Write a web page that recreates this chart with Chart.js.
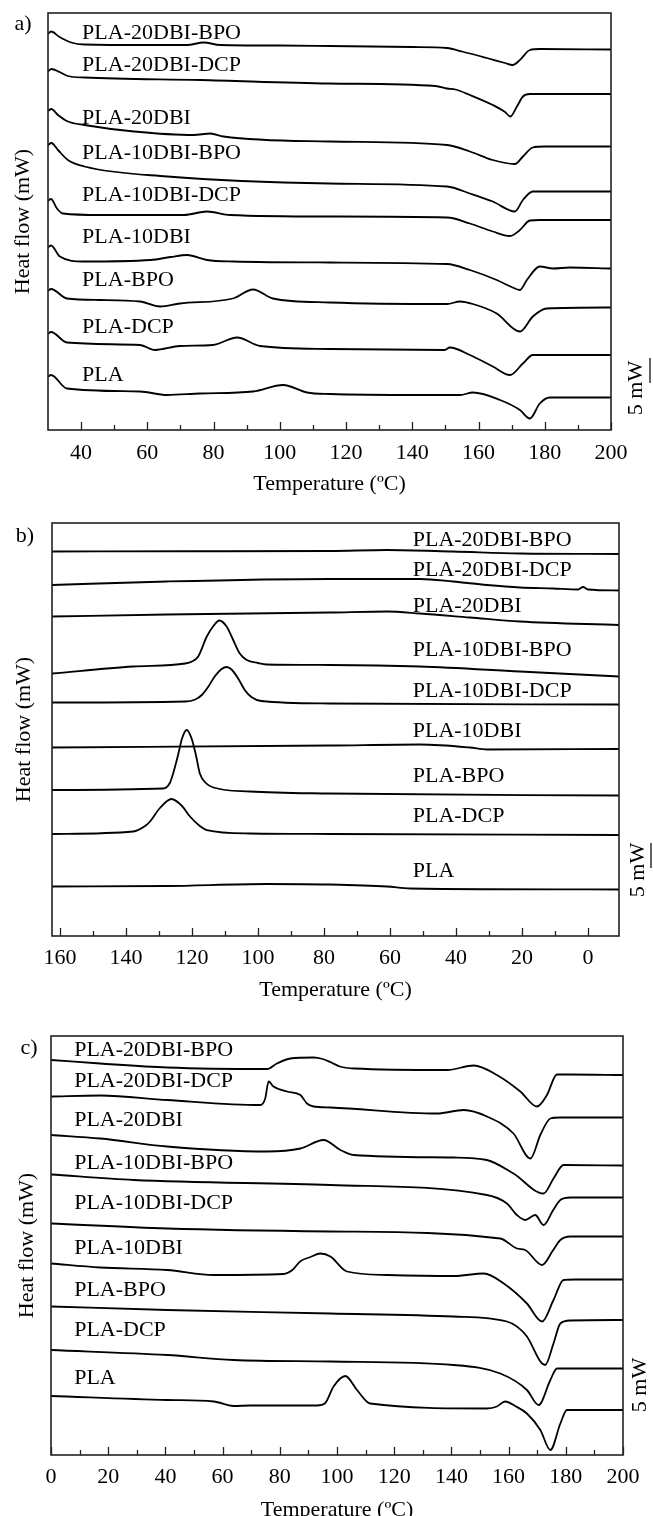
<!DOCTYPE html>
<html>
<head>
<meta charset="utf-8">
<script src="https://cdn.jsdelivr.net/npm/chart.js@4.4.1/dist/chart.umd.min.js"></script>
<style>
  html, body { margin: 0; padding: 0; background: #fff; }
  body { width: 653px; height: 1516px; position: relative; overflow: hidden; }
  .panel { position: absolute; left: 0; width: 653px; }
</style>
</head>
<body>
<div class="panel" style="top:0;height:505px"><canvas id="dscA"></canvas></div>
<div class="panel" style="top:505px;height:520px"><canvas id="dscB"></canvas></div>
<div class="panel" style="top:1025px;height:500px"><canvas id="dscC"></canvas></div>
<script>
const samples = ['PLA-20DBI-BPO', 'PLA-20DBI-DCP', 'PLA-20DBI', 'PLA-10DBI-BPO',
  'PLA-10DBI-DCP', 'PLA-10DBI', 'PLA-BPO', 'PLA-DCP', 'PLA'];

// a) first heating, [temperature ºC, heat flow mW (stacked offset)]
const ticksA = [40, 60, 80, 100, 120, 140, 160, 180, 200];
const minorA = [50, 70, 90, 110, 130, 150, 170, 190];
const a20BPO = [[30,79.2],[30.9,79.7],[33.5,78.6],[37,77.5],[41,77.1],[60,77],[72,77],[77,77.5],[82,77],[100,76.9],[115,76.8],[140,76.6],[150.5,76.4],[155,75.7],[162.5,74.4],[168,73.4],[170.3,73],[172.5,74],[175.5,76],[178.5,76.2],[200,76.1]];
const a20DCP = [[30,71.7],[31,72.2],[33.5,71.6],[36,70.8],[41,70.5],[76,70],[115,69.3],[147,68.8],[150.5,68.3],[153,68.1],[157.4,67],[164.3,65],[168,63.6],[169.6,62.7],[171.6,64.7],[173.4,66.7],[175.5,67.2],[200,67.2]];
const a20 = [[30,63.8],[31,64.2],[33,63],[36,61.7],[41,61],[56,59.7],[74,59],[79,59.3],[83,58.7],[115,57.7],[150.5,57],[157.4,55.7],[164.3,54],[171,53.2],[173.4,54.7],[176.4,56.5],[180,56.7],[200,56.7]];
const a10BPO = [[30,57],[31,57.4],[33,56],[36,54],[41,52.7],[66,50.7],[115,49.3],[150.5,48.7],[157.4,47.3],[164.3,45.7],[171,43.7],[173.4,46],[176.4,47.7],[180,47.7],[200,47.7]];
const a10DCP = [[30,45.8],[30.9,46.2],[32.7,44.3],[34.5,43.3],[46,43],[71,43],[78,43.7],[85,43],[115,42.7],[150.5,42.5],[157.4,41.3],[164.3,39.7],[169.5,38.8],[172.5,40],[175.5,41.9],[178.5,42],[200,42]];
const a10 = [[30,36.5],[30.9,36.9],[33.6,34.7],[40.6,33.7],[61,34],[67,34.6],[72,35],[78,34],[86,33.7],[115,33.5],[150.5,33.2],[157.4,32],[165.5,30],[170,28.6],[172.5,28],[174.6,30],[178.5,32.7],[182.5,32.3],[187.6,32.5],[200,32.3]];
const aBPO = [[30,27.8],[30.9,28.2],[35.7,26.3],[45.7,26],[57.8,25.7],[63.8,24.7],[69.8,25.3],[85.8,26.3],[91.9,28.1],[97.9,26.3],[115,25.5],[150.5,25.2],[154.4,25.7],[158.3,25.2],[165.5,23.3],[172.5,19.7],[176.4,22.7],[180.6,24.3],[200,24.5]];
const aDCP = [[30,19.2],[30.9,19.6],[35.7,17.5],[57.8,17],[62.3,16],[69.8,16.8],[79.8,17],[87.1,18.5],[94,16.8],[115,16.2],[149.8,16],[151.3,16.5],[157.4,15],[164.3,12.7],[169.5,11],[173.4,13.3],[176.4,15],[200,15]];
const aPLA = [[30,10.6],[30.9,11],[35.7,8.3],[57.8,7.7],[65.9,7],[75.9,7.3],[91.9,7.7],[101,9],[108.2,7.5],[115,7.2],[142.3,7],[154.4,7],[158.3,7.5],[166.5,6],[172.5,4],[175.5,2.3],[178.5,5.3],[181.5,6.5],[200,6.5]];

// b) cooling
const ticksB = [160, 140, 120, 100, 80, 60, 40, 20, 0];
const minorB = [150, 130, 110, 90, 70, 50, 30, 10];
const b20BPO = [[162.4,76.9],[120,76.95],[78.2,77],[60.9,77.2],[40.9,76.9],[20.6,76.5],[-9.4,76.4]];
const b20DCP = [[162.4,70.2],[127.6,70.9],[78.2,71.4],[50.9,71.4],[40.9,70.9],[30.6,70.2],[20.6,69.7],[10.6,69.5],[3,69.3],[1.5,69.8],[0,69.3],[-9.4,69.1]];
const b20 = [[162.4,63.9],[127.6,64.3],[78.2,64.7],[60.9,64.9],[50.9,64.5],[35.8,63.7],[20.6,62.9],[-9.4,62.2]];
const b10BPO = [[162.4,52.5],[137.9,53.9],[122,54.5],[120,54.9],[118.1,55.9],[115.5,59.9],[113.5,62],[111.7,63.1],[109.5,61.9],[107.5,59.2],[105.5,56.5],[103.4,55.2],[100,54.6],[97.4,54.3],[78.2,54.2],[50.9,53.9],[20.6,52.9],[-9.4,51.9]];
const b10DCP = [[162.4,46.7],[122,46.9],[119,47.3],[117,48.2],[115,49.9],[113,52],[111,53.4],[109.5,53.8],[108,53.3],[106,51.5],[104,49.2],[102,47.8],[99,47],[78.2,46.5],[-9.4,46.3]];
const b10 = [[162.4,37.7],[78.2,38.1],[50.9,38.3],[35.8,37.7],[30.6,37.3],[-9.4,37.4]];
const bBPO = [[162.4,29.2],[128.7,29.5],[126.7,30.6],[125.7,32.5],[124.2,36.2],[123,39.5],[121.6,41.2],[120.1,39.5],[118.8,36.2],[117.6,32.5],[115.8,30.6],[113.5,29.7],[102.4,28.9],[78.2,28.5],[-9.4,28.1]];
const bDCP = [[162.4,20.4],[137.8,20.9],[134.2,22],[132.7,22.9],[129.7,25.6],[126.2,27.4],[123,26],[120.6,23.9],[117.6,22],[115.5,21.2],[102.4,20.5],[78.2,20.4],[-9.4,20.2]];
const bPLA = [[162.4,9.9],[127.6,10],[97.3,10.4],[78.2,10.3],[60.9,9.9],[53.9,9.5],[-9.4,9.3]];

// c) second heating
const ticksC = [0, 20, 40, 60, 80, 100, 120, 140, 160, 180, 200];
const minorC = [10, 30, 50, 70, 90, 110, 130, 150, 170, 190];
const c20BPO = [[0,79],[17.2,78.3],[40.6,77.5],[75.5,77.2],[79,78.3],[83.7,79.3],[91.8,79.5],[95,79.2],[98,78.5],[101,77.7],[106,77.3],[138.5,77],[147.8,77.9],[155.9,76],[164.1,72.7],[169.9,69.7],[173.4,72],[176.9,76.1],[181.6,76.1],[200,76]];
const c20DCP = [[0,71.7],[17.2,71.9],[40.6,71],[73.2,70],[74.9,71.3],[76.1,74.7],[77.8,73.7],[82.5,72.7],[87.2,72],[89.5,70.3],[91.8,69.7],[97.7,69.5],[135,68.3],[144.3,69],[152.4,67.7],[161.7,64.3],[167.6,59.3],[171.1,64],[174.6,67.3],[178,67.5],[200,67.5]];
const c20 = [[0,64],[17.2,63.3],[40.6,61.7],[75.5,60.7],[87.2,61.3],[95.3,63],[101.2,61],[105.8,60],[140.8,59.5],[152.4,59],[161.7,56.3],[172.2,52.3],[175.7,55.3],[179.2,58],[200,57.9]];
const c10BPO = [[0,56.1],[28.9,55],[97.7,54],[152.4,52],[159.4,50.3],[162.9,48],[165.8,47],[169.3,48],[172.2,46],[175.6,49],[178.1,51],[181.6,51.5],[200,51.5]];
const c10DCP = [[0,46.3],[40.6,45.3],[97.7,44.7],[157.1,43.3],[162.9,41.3],[165.8,41],[171.7,38],[175.6,41],[178.1,43],[181.6,43.7],[200,43.7]];
const c10 = [[0,38.3],[17.2,37.5],[40.6,37],[56.9,36],[81.3,36.2],[84.4,37],[87.1,38.7],[90.7,39.6],[94.2,40.3],[97.7,39.7],[103.5,36.7],[117.5,36],[140.8,35.8],[151.3,36.3],[158.3,34.3],[166.4,30.3],[171.7,26.7],[175.7,31],[179.2,35],[183.3,35.1],[200,35.1]];
const cBPO = [[0,29.7],[40.6,29],[97.7,28.3],[140.8,27.7],[159.4,26.7],[166.4,23.7],[171.1,18.7],[172.8,18],[175.7,22.3],[178.1,26.3],[181.6,26.9],[200,27]];
const cDCP = [[0,21],[40.6,20],[63.8,19],[97.7,18.7],[140.8,18],[157.1,16.3],[166.4,13],[170.5,10],[174.6,15],[176.9,17.3],[179.8,17.3],[200,17.3]];
const cPLA = [[0,11.8],[40.6,11],[56.9,10.7],[63.8,9.8],[69.7,9.9],[93,9.9],[95.9,10.4],[98.8,13.7],[102.9,15.8],[107,13],[111.6,10.3],[152.4,9.3],[155.9,9.7],[158.8,10.7],[162.3,9.8],[166.4,8.3],[171.1,5],[174.6,1],[178.1,6.3],[180.4,9],[183.3,9],[200,9]];

const serif = '"Liberation Serif", "Times New Roman", serif';

// frame, inward ticks, curve names, panel letter and the 5 mW bar
const decor = {
  id: 'dscDecor',
  afterDatasetsDraw(chart, args, o) {
    const { ctx, chartArea: ca, scales: { x, y } } = chart;
    ctx.save();
    ctx.strokeStyle = '#222';
    ctx.lineWidth = 1.6;
    ctx.strokeRect(ca.left, ca.top, ca.right - ca.left, ca.bottom - ca.top);
    ctx.beginPath();
    o.major.forEach(v => { const px = Math.round(x.getPixelForValue(v)) + 0.5; ctx.moveTo(px, ca.bottom); ctx.lineTo(px, ca.bottom - 8); });
    o.minor.forEach(v => { const px = Math.round(x.getPixelForValue(v)) + 0.5; ctx.moveTo(px, ca.bottom); ctx.lineTo(px, ca.bottom - 5); });
    ctx.lineWidth = 1.3;
    ctx.stroke();

    ctx.fillStyle = '#000';
    ctx.font = '22px ' + serif;
    ctx.textBaseline = 'middle';
    ctx.textAlign = 'left';
    samples.forEach((s, i) => ctx.fillText(s, x.getPixelForValue(o.labelT), y.getPixelForValue(o.labelV[i])));
    ctx.textAlign = 'center';
    ctx.fillText(o.letter, o.letterX, o.letterY);

    if (o.bar) {
      if (o.bar.len) {
        ctx.beginPath();
        ctx.lineWidth = 1.4;
        ctx.moveTo(o.bar.lineX, y.getPixelForValue(o.bar.top));
        ctx.lineTo(o.bar.lineX, y.getPixelForValue(o.bar.top - o.bar.len));
        ctx.stroke();
      }
      ctx.translate(o.bar.textX, y.getPixelForValue(o.bar.textV));
      ctx.rotate(-Math.PI / 2);
      ctx.fillText('5 mW', 0, 0);
    }
    ctx.restore();
  }
};

function dscChart(id, p) {
  return new Chart(document.getElementById(id), {
    type: 'line',
    data: {
      datasets: p.series.map((d, i) => ({
        label: samples[i],
        data: d,
        borderColor: '#000',
        borderWidth: 1.8,
        pointRadius: 0,
        fill: false,
        cubicInterpolationMode: 'monotone'
      }))
    },
    options: {
      responsive: true,
      maintainAspectRatio: false,
      animation: false,
      events: [],
      layout: { padding: { top: p.top, right: p.right, left: 0, bottom: 0 } },
      plugins: { legend: { display: false }, tooltip: { enabled: false }, dscDecor: p.decor },
      scales: {
        x: {
          type: 'linear',
          min: p.xmin,
          max: p.xmax,
          reverse: !!p.reverse,
          afterBuildTicks: s => { s.ticks = p.ticks.map(v => ({ value: v })); },
          afterFit: s => { s.height = p.xh; },
          grid: { display: false, drawTicks: false },
          border: { display: false },
          ticks: { color: '#000', padding: p.tickPad, maxRotation: 0, autoSkip: false, font: { family: serif, size: 22, lineHeight: 1 } },
          title: { display: true, text: 'Temperature (ºC)', color: '#000', padding: { top: 0, bottom: p.titlePad }, font: { family: serif, size: 22, lineHeight: 1 } }
        },
        y: {
          min: 0,
          max: p.ymax,
          afterFit: s => { s.width = p.yw; },
          grid: { display: false, drawTicks: false },
          border: { display: false },
          ticks: { display: false },
          title: { display: true, text: 'Heat flow (mW)', color: '#000', padding: { top: p.yTitlePad, bottom: 0 }, font: { family: serif, size: 22, lineHeight: 1 } }
        }
      }
    },
    plugins: [decor]
  });
}

dscChart('dscA', {
  series: [a20BPO, a20DCP, a20, a10BPO, a10DCP, a10, aBPO, aDCP, aPLA],
  xmin: 30, xmax: 200, ticks: ticksA, ymax: 83.4,
  top: 13, right: 42, xh: 75, yw: 48, tickPad: 12, titlePad: 10, yTitlePad: 12,
  decor: { major: ticksA, minor: minorA, letter: 'a)', letterX: 23, letterY: 24,
    labelT: 40.3, labelV: [79.4, 73, 62.4, 55.4, 47, 38.6, 30, 20.6, 11],
    bar: { textX: 636, textV: 8.4, lineX: 650, top: 14.4, len: 5 } }
});

dscChart('dscB', {
  series: [b20BPO, b20DCP, b20, b10BPO, b10DCP, b10, bBPO, bDCP, bPLA],
  xmin: -9.4, xmax: 162.4, reverse: true, ticks: ticksB, ymax: 82.6,
  top: 18, right: 34, xh: 89, yw: 52, tickPad: 11, titlePad: 24, yTitlePad: 13,
  decor: { major: ticksB, minor: minorB, letter: 'b)', letterX: 25, letterY: 31,
    labelT: 53.1, labelV: [79.2, 73.2, 65.9, 57.2, 48.9, 40.9, 31.9, 23.9, 12.9],
    bar: { textX: 638, textV: 13.2, lineX: 651, top: 18.6, len: 5 } }
});

dscChart('dscC', {
  series: [c20BPO, c20DCP, c20, c10BPO, c10DCP, c10, cBPO, cDCP, cPLA],
  xmin: 0, xmax: 200, ticks: ticksC, ymax: 83.8,
  top: 11, right: 30, xh: 70, yw: 51, tickPad: 11, titlePad: 4, yTitlePad: 16,
  decor: { major: ticksC, minor: minorC, letter: 'c)', letterX: 29, letterY: 23,
    labelT: 8.1, labelV: [81, 74.7, 67, 58.3, 50.3, 41.3, 33, 25, 15.3],
    bar: { textX: 640, textV: 14 } }
});
</script>
</body>
</html>
